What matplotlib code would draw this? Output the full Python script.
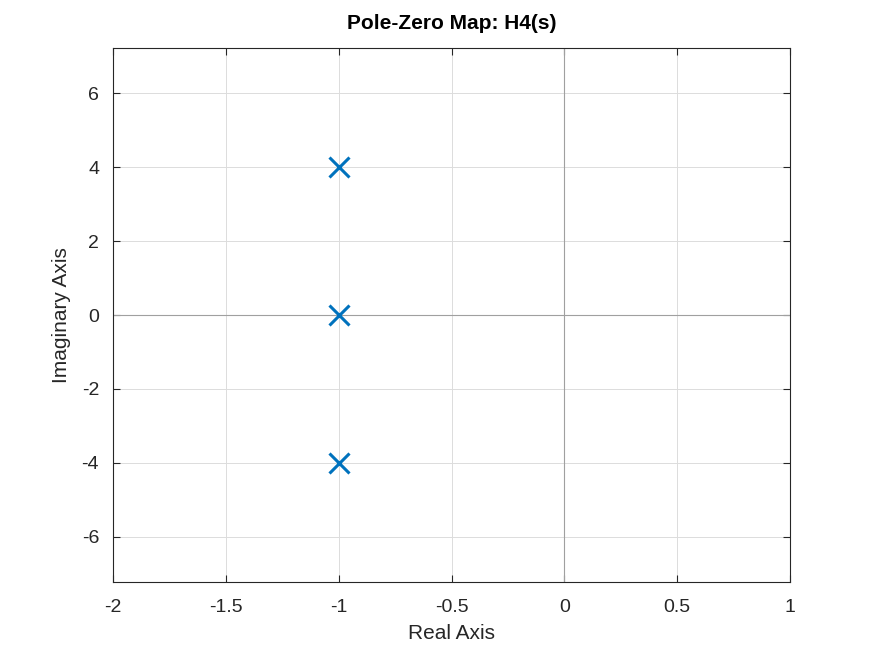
import matplotlib
matplotlib.use("Agg")
import matplotlib.pyplot as plt

pole_re = [-1, -1, -1]
pole_im = [4, 0, -4]
xticks = [-2, -1.5, -1, -0.5, 0, 0.5, 1]
xticklabels = ["-2", "-1.5", "-1", "-0.5", "0", "0.5", "1"]
yticks = [-6, -4, -2, 0, 2, 4, 6]
yticklabels = ["-6", "-4", "-2", "0", "2", "4", "6"]

plt.rcParams['font.family'] = ['Liberation Sans', 'DejaVu Sans']
fig = plt.figure(figsize=(8.73, 6.55), dpi=100)
ax = fig.add_axes([113/873, 1-582/655, (790-113)/873, (582-48)/655])
ax.axhline(0, color='#a0a0a0', lw=0.8, zorder=1)
ax.axvline(0, color='#a0a0a0', lw=0.8, zorder=1)
ax.plot(pole_re, pole_im, 'x', color='#0072BD', ms=15, mew=2.2, zorder=3)
ax.set_xlim(-2, 1)
ax.set_ylim(-7.22, 7.22)
ax.set_xticks(xticks)
ax.set_xticklabels(xticklabels)
ax.set_yticks(yticks)
ax.set_yticklabels(yticklabels)
ax.grid(True, color='#dcdcdc', lw=0.7)
ax.set_axisbelow(True)
ax.tick_params(direction='in', top=True, right=True, labelsize=14, colors='#262626', length=5)
ax.tick_params(axis='x', pad=12)
ax.tick_params(axis='y', pad=10)
for s in ax.spines.values():
    s.set_color('#262626'); s.set_linewidth(0.8)
ax.set_xlabel('Real Axis', fontsize=15, color='#262626', labelpad=6)
ax.set_ylabel('Imaginary Axis', fontsize=15, color='#262626', labelpad=8)
ax.set_title('Pole-Zero Map: H4(s)', fontsize=15, fontweight='bold', pad=14)
fig.savefig('out.png', dpi=100)
